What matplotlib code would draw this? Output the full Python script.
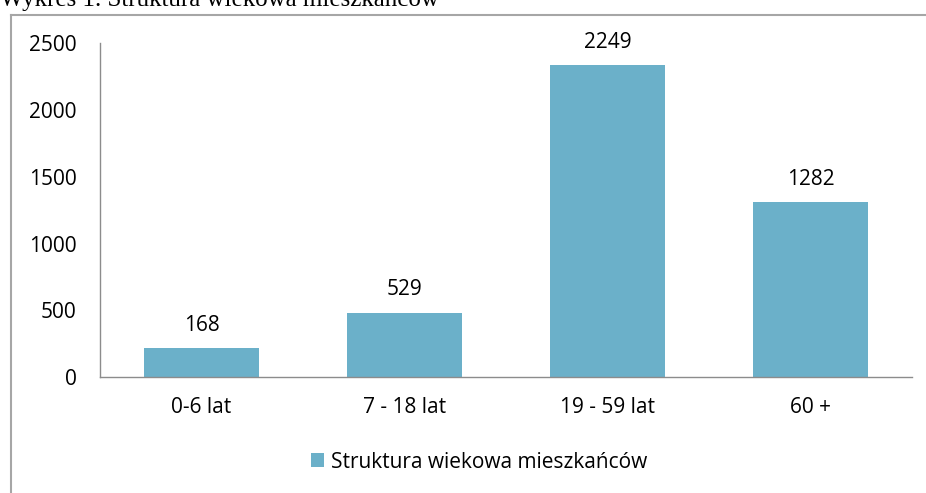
import matplotlib
matplotlib.use("Agg")
import matplotlib.pyplot as plt
from matplotlib.lines import Line2D
from matplotlib.patches import Patch

categories = ["0-6 lat", "7 - 18 lat", "19 - 59 lat", "60 +"]
bar_heights = [215, 482, 2339, 1310]   # heights as drawn in the reference
value_labels = ["168", "529", "2249", "1282"]  # data labels as printed
y_ticks = [0, 500, 1000, 1500, 2000, 2500]
series_name = "Struktura wiekowa mieszkańców"
title = "Wykres 1. Struktura wiekowa mieszkańców"

W, H = 926, 493
plt.rcParams['font.family'] = ['Open Sans', 'DejaVu Sans']
fig = plt.figure(figsize=(W / 100, H / 100), dpi=100)

bar_color = "#6BB0C9"
axis_color = "#8C8C8C"
fs = 15

ax = fig.add_axes([100 / W, 116 / H, 812 / W, 333.5 / H])
x = list(range(len(categories)))
bars = ax.bar(x, bar_heights, width=0.57, color=bar_color, edgecolor="none")
ax.set_xlim(-0.5, len(categories) - 0.5)
ax.set_ylim(0, 2500)
ax.set_yticks(y_ticks)
ax.set_yticklabels([str(t) for t in y_ticks], fontsize=fs)
ax.set_xticks(x)
ax.set_xticklabels(categories, fontsize=fs)
ax.tick_params(axis='both', length=0)
ax.tick_params(axis='y', pad=17)
ax.tick_params(axis='x', pad=14.5)
for s in ["top", "right"]:
    ax.spines[s].set_visible(False)
for s in ["left", "bottom"]:
    ax.spines[s].set_color(axis_color)
    ax.spines[s].set_linewidth(1.0)

for xi, h, lab in zip(x, bar_heights, value_labels):
    ax.annotate(lab, (xi, h), xytext=(0, 16.5), textcoords="offset points",
                ha="center", va="center", fontsize=fs)

fig.legend(handles=[Patch(facecolor=bar_color, edgecolor="none", label=series_name)],
           loc="center", bbox_to_anchor=(479 / W, 1 - 462 / H), frameon=False,
           fontsize=fs, handlelength=0.63, handleheight=0.63, handletextpad=0.3)

# outer frame (left and top lines)
fig.add_artist(Line2D([10.5 / W, 10.5 / W], [0, 1 - 14.5 / H], transform=fig.transFigure,
                      color="#A6A6A6", lw=1.5))
fig.add_artist(Line2D([10.5 / W, 1], [1 - 14.5 / H, 1 - 14.5 / H], transform=fig.transFigure,
                      color="#A6A6A6", lw=1.5))

fig.text(0, 1 - 6 / H, title, family="Liberation Serif", fontsize=18,
         ha="left", va="baseline")

fig.savefig("out.png", dpi=100)
